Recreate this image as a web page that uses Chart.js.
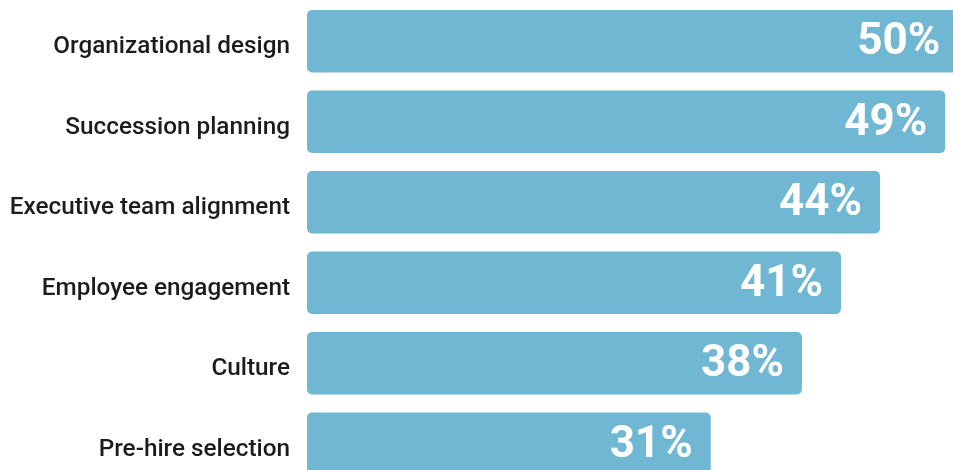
<!DOCTYPE html>
<html>
<head>
<meta charset="utf-8">
<script src="https://cdn.jsdelivr.net/npm/chart.js@4"></script>
<style>
  html, body { margin: 0; padding: 0; background: #ffffff; overflow: hidden; }
  #wrap { position: relative; width: 953px; height: 484px; }
</style>
</head>
<body>
<div id="wrap"><canvas id="c"></canvas></div>
<script>
const categories = [
  "Organizational design",
  "Succession planning",
  "Executive team alignment",
  "Employee engagement",
  "Culture",
  "Pre-hire selection"
];
const values = [50, 49, 44, 41, 38, 31];

const valueLabels = {
  id: 'valueLabels',
  afterDatasetsDraw(chart) {
    const ctx = chart.ctx;
    const meta = chart.getDatasetMeta(0);
    ctx.save();
    ctx.fillStyle = '#ffffff';
    ctx.font = 'bold 44px Roboto';
    ctx.textAlign = 'right';
    ctx.textBaseline = 'middle';
    meta.data.forEach((bar, i) => {
      ctx.fillText(values[i] + '%', bar.x - 18, bar.y + 2);
    });
    ctx.restore();
  }
};

new Chart(document.getElementById('c'), {
  type: 'bar',
  data: {
    labels: categories,
    datasets: [{
      data: values,
      backgroundColor: '#6fb7d2',
      borderRadius: 5,
      borderSkipped: false,
      barPercentage: 0.777,
      categoryPercentage: 1.0
    }]
  },
  options: {
    indexAxis: 'y',
    responsive: true,
    maintainAspectRatio: false,
    animation: false,
    layout: { padding: { top: 1, right: 0, bottom: 0, left: 0 } },
    plugins: { legend: { display: false }, tooltip: { enabled: false } },
    scales: {
      x: {
        display: false,
        min: 0,
        max: 49.6,
        afterFit(scale) { scale.paddingLeft = 0; scale.paddingRight = 0; }
      },
      y: {
        afterFit(scale) {
          scale.width = 307;
          scale.paddingTop = 0;
          scale.paddingBottom = 0;
        },
        grid: { display: false, drawTicks: false },
        border: { display: false },
        ticks: {
          color: '#1c1c1c',
          padding: 17,
          labelOffset: 6,
          font: { family: 'Roboto', size: 24.3, weight: '500' }
        }
      }
    }
  },
  plugins: [valueLabels]
});
</script>
</body>
</html>
